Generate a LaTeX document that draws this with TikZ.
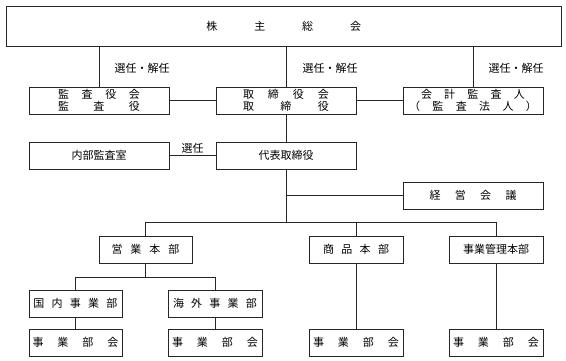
\documentclass[tikz,border=0pt]{standalone}
\usepackage{fontspec}
\newfontfamily\jp{Noto Sans CJK JP}
\newcommand{\spr}[2]{\makebox[#1][s]{#2}}
\begin{document}
\begin{tikzpicture}[x=1pt,y=-1pt,
  box/.style={draw=black!85, line width=0.8pt, minimum height=27pt, inner sep=0pt, align=center, font=\jp\fontsize{11}{12}\selectfont},
  conn/.style={draw=black!85, line width=0.8pt},
  lbl/.style={inner sep=0pt, font=\jp\fontsize{11}{12}\selectfont}]
\useasboundingbox (0,0) rectangle (566,361);
% top
\node[box, minimum width=555.5pt, minimum height=40pt] (gm) at (283.75,26) {\spr{155pt}{株\hfill 主\hfill 総\hfill 会}};
% row 2
\node[box, minimum width=140pt] (kansa) at (99,100.5) {\spr{82pt}{監\hfill 査\hfill 役\hfill 会}\\\spr{82pt}{監\hfill 査\hfill 役}};
\node[box, minimum width=140pt] (tori) at (286,100.5) {\spr{86pt}{取\hfill 締\hfill 役\hfill 会}\\\spr{86pt}{取\hfill 締\hfill 役}};
\node[box, minimum width=140pt] (kaikei) at (473,100.5) {\spr{104pt}{会\hfill 計\hfill 監\hfill 査\hfill 人}\\\spr{128pt}{（\hfill 監\hfill 査\hfill 法\hfill 人\hfill ）}};
% row 3
\node[box, minimum width=140pt] (naibu) at (99,155.5) {内部監査室};
\node[box, minimum width=140pt] (daihyo) at (286,155.5) {代表取締役};
\node[box, minimum width=140pt] (keiei) at (473,195.5) {\spr{87pt}{経\hfill 営\hfill 会\hfill 議}};
% row 4
\node[box, minimum width=93pt] (eigyo) at (145.5,249.5) {\spr{68pt}{営\hfill 業\hfill 本\hfill 部}};
\node[box, minimum width=94pt] (shohin) at (356,249.5) {\spr{66pt}{商\hfill 品\hfill 本\hfill 部}};
\node[box, minimum width=94pt] (kanri) at (496,249.5) {事業管理本部};
% row 5
\node[box, minimum width=93pt] (kokunai) at (75.5,303.5) {\spr{84pt}{国\hfill 内\hfill 事\hfill 業\hfill 部}};
\node[box, minimum width=94pt] (kaigai) at (215,303.5) {\spr{84pt}{海\hfill 外\hfill 事\hfill 業\hfill 部}};
% row 6
\node[box, minimum width=93pt] (bk1) at (75.5,342.5) {\spr{86pt}{事\hfill 業\hfill 部\hfill 会}};
\node[box, minimum width=94pt] (bk2) at (215,342.5) {\spr{86pt}{事\hfill 業\hfill 部\hfill 会}};
\node[box, minimum width=94pt] (bk3) at (356,342.5) {\spr{86pt}{事\hfill 業\hfill 部\hfill 会}};
\node[box, minimum width=94pt] (bk4) at (496,342.5) {\spr{86pt}{事\hfill 業\hfill 部\hfill 会}};
% labels
\node[lbl] (l1) at (142,68) {選任・解任};
\node[lbl] (l2) at (330,68) {選任・解任};
\node[lbl] (l3) at (516,68) {選任・解任};
% connectors
\draw[conn] (kansa.north |- gm.south) -- (kansa.north);
\draw[conn] (tori.north |- gm.south) -- (tori.north);
\draw[conn] (kaikei.north |- gm.south) -- (kaikei.north);
\draw[conn] (kansa.east) -- (tori.west);
\draw[conn] (tori.east) -- (kaikei.west);
\draw[conn] (tori.south) -- (daihyo.north);
\draw[conn] (naibu.east) -- (daihyo.west) node[lbl, midway, above=2pt] (l4) {選任};
\coordinate (bus) at (286,222);
\coordinate (bus2) at (145.5,277);
\draw[conn] (daihyo.south) -- (bus);
\draw[conn] (keiei.west -| daihyo.south) -- (keiei.west);
\draw[conn] (eigyo.north) -- (eigyo.north |- bus) -- (kanri.north |- bus) -- (kanri.north);
\draw[conn] (shohin.north |- bus) -- (shohin.north);
\draw[conn] (eigyo.south) -- (bus2);
\draw[conn] (kokunai.north) -- (kokunai.north |- bus2) -- (kaigai.north |- bus2) -- (kaigai.north);
\draw[conn] (kokunai.south) -- (bk1.north);
\draw[conn] (kaigai.south) -- (bk2.north);
\draw[conn] (shohin.south) -- (bk3.north);
\draw[conn] (kanri.south) -- (bk4.north);
\end{tikzpicture}
\end{document}
